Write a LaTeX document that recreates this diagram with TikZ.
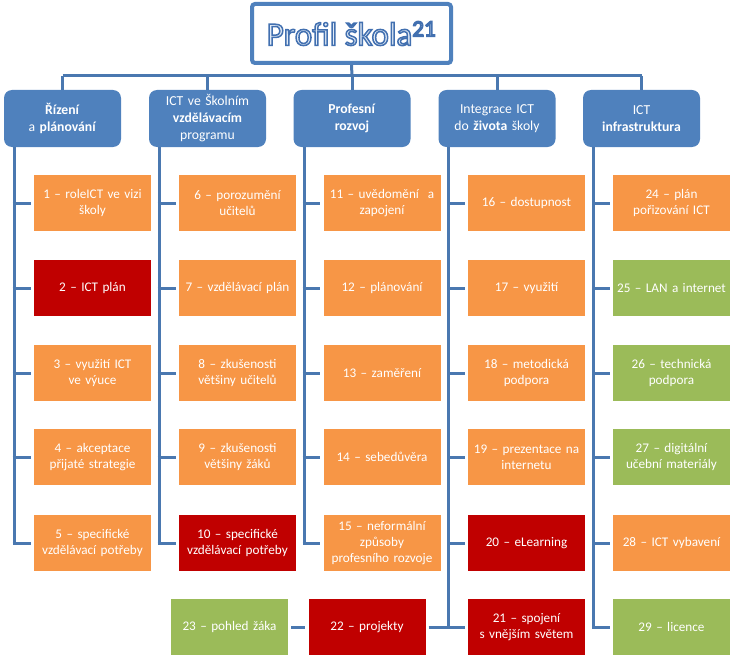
\documentclass[tikz,border=0pt]{standalone}
\usepackage{fontspec}
\setmainfont{Carlito}
\definecolor{hblue}{HTML}{4F81BD}
\definecolor{conn}{HTML}{4A78B0}
\definecolor{org}{HTML}{F79646}
\definecolor{dred}{HTML}{C00000}
\definecolor{grn}{HTML}{9BBB59}
\definecolor{tfill}{HTML}{E3ECF7}
\tikzset{
  conn/.style={draw=conn,line width=3pt},
  stub/.style={conn,shorten >=3pt},
  itembox/.style={minimum width=117pt,minimum height=56pt,text width=114pt,align=center,
    text=white,inner sep=0pt,font=\fontsize{13.2}{16}\selectfont},
  hdrbox/.style={fill=hblue,rounded corners=8pt,minimum width=117pt,minimum height=57pt,
    text width=114pt,align=center,text=white,inner sep=0pt,font=\fontsize{13.7}{17}\selectfont},
}
\newcommand{\outlinetext}[1]{{\color{tfill}\special{pdf:literal direct 2 Tr 1.5 w 0.26 0.44 0.69 RG}#1\special{pdf:literal direct 0 Tr}}}
\begin{document}
\begin{tikzpicture}[x=1pt,y=-1pt]
\useasboundingbox (0,0) rectangle (733,658);
% title
\node[draw=hblue,line width=4pt,rounded corners=3pt,fill=white,minimum width=199pt,minimum height=59pt,inner sep=0pt]
  (title) at (351.5,33.5) {\fontsize{33}{36}\selectfont\outlinetext{Profil škola\textsuperscript{21}}};
% headers
\node[hdrbox] (h1) at (62.5,118.5) {\textbf{Řízení}\\a \textbf{plánování}};
\node[hdrbox] (h2) at (207.5,118.5) {ICT ve Školním\\\textbf{vzdělávacím}\\programu};
\node[hdrbox] (h3) at (352,118.5) {\textbf{Profesní}\\\textbf{rozvoj}};
\node[hdrbox] (h4) at (497,118.5) {Integrace ICT\\do \textbf{života} školy};
\node[hdrbox] (h5) at (641.5,118.5) {ICT\\\textbf{infrastruktura}};
\coordinate (hb) at (352,76);
\draw[conn] (title.south) -- (hb);
\draw[conn] (h1.north |- hb) -- (h5.north |- hb);
\foreach \h in {h1,h2,h3,h4,h5} \draw[conn] (\h.north |- hb) -- (\h.north);
% column 1
\node[itembox,fill=org]  (b1) at (92.5,203) {1 – roleICT ve vizi\\školy};
\node[itembox,fill=dred] (b2) at (92.5,288) {2 – ICT plán};
\node[itembox,fill=org]  (b3) at (92.5,373) {3 – využití ICT\\ve výuce};
\node[itembox,fill=org]  (b4) at (92.5,457) {4 – akceptace\\přijaté strategie};
\node[itembox,fill=org]  (b5) at (92.5,543) {5 – specifické\\vzdělávací potřeby};
% column 2
\node[itembox,fill=org]  (b6) at (237.5,203) {6 – porozumění\\učitelů};
\node[itembox,fill=org]  (b7) at (237.5,288) {7 – vzdělávací plán};
\node[itembox,fill=org]  (b8) at (237.5,373) {8 – zkušenosti\\většiny učitelů};
\node[itembox,fill=org]  (b9) at (237.5,457) {9 – zkušenosti\\většiny žáků};
\node[itembox,fill=dred] (b10) at (237.5,543) {10 – specifické\\vzdělávací potřeby};
% column 3
\node[itembox,fill=org]  (b11) at (382,203) {11 – uvědomění~ a\\zapojení};
\node[itembox,fill=org]  (b12) at (382,288) {12 – plánování};
\node[itembox,fill=org]  (b13) at (382,373) {13 – zaměření};
\node[itembox,fill=org]  (b14) at (382,457) {14 – sebedůvěra};
\node[itembox,fill=org]  (b15) at (382,543) {15 – neformální\\způsoby\\profesního rozvoje};
% column 4
\node[itembox,fill=org]  (b16) at (526.5,203) {16 – dostupnost};
\node[itembox,fill=org]  (b17) at (526.5,288) {17 – využití};
\node[itembox,fill=org]  (b18) at (526.5,373) {18 – metodická\\podpora};
\node[itembox,fill=org]  (b19) at (526.5,457) {19 – prezentace na\\internetu};
\node[itembox,fill=dred] (b20) at (526.5,543) {20 – eLearning};
\node[itembox,fill=dred] (b21) at (526.5,627) {21 – spojení\\s vnějším světem};
% column 5
\node[itembox,fill=org]  (b24) at (671.5,203) {24 – plán\\pořizování ICT};
\node[itembox,fill=grn]  (b25) at (671.5,288) {25 – LAN a internet};
\node[itembox,fill=grn]  (b26) at (671.5,373) {26 – technická\\podpora};
\node[itembox,fill=grn]  (b27) at (671.5,457) {27 – digitální\\učební materiály};
\node[itembox,fill=org]  (b28) at (671.5,543) {28 – ICT vybavení};
\node[itembox,fill=grn]  (b29) at (671.5,627) {29 – licence};
% bottom row
\node[itembox,fill=dred] (b22) at (367,627) {22 – projekty};
\node[itembox,fill=grn]  (b23) at (229.5,627) {23 – pohled žáka};
% trunks
\coordinate (t1) at (14,147);
\coordinate (t2) at (159,147);
\coordinate (t3) at (304,147);
\coordinate (t4) at (448.5,147);
\coordinate (t5) at (593.5,147);
\draw[conn] (t1) -- ([yshift=1.5pt]t1 |- b5.west);
\draw[conn] (t2) -- ([yshift=1.5pt]t2 |- b10.west);
\draw[conn] (t3) -- ([yshift=1.5pt]t3 |- b15.west);
\draw[conn] (t4) -- ([yshift=1.5pt]t4 |- b21.west);
\draw[conn] (t5) -- ([yshift=1.5pt]t5 |- b29.west);
\foreach \b in {b1,b2,b3,b4,b5} \draw[stub] ([xshift=-1.5pt]\b.west -| t1) -- (\b.west);
\foreach \b in {b6,b7,b8,b9,b10} \draw[stub] ([xshift=-1.5pt]\b.west -| t2) -- (\b.west);
\foreach \b in {b11,b12,b13,b14,b15} \draw[stub] ([xshift=-1.5pt]\b.west -| t3) -- (\b.west);
\foreach \b in {b16,b17,b18,b19,b20,b21} \draw[stub] ([xshift=-1.5pt]\b.west -| t4) -- (\b.west);
\foreach \b in {b24,b25,b26,b27,b28,b29} \draw[stub] ([xshift=-1.5pt]\b.west -| t5) -- (\b.west);
\draw[conn,shorten <=3pt] (b22.east) -- (b22.east -| t4);
\draw[conn,shorten <=3pt,shorten >=3pt] (b23.east) -- (b22.west);
\end{tikzpicture}
\end{document}
